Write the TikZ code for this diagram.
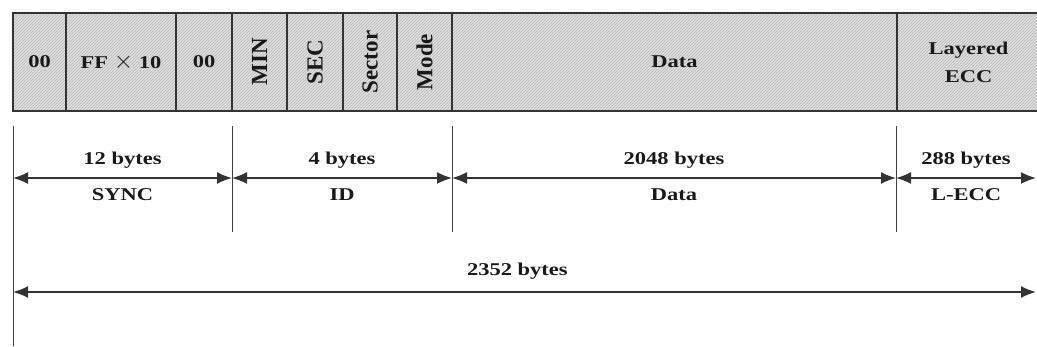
\documentclass[tikz,border=0pt]{standalone}
\usepackage{fontspec}
\setmainfont{Liberation Serif}[FakeStretch=1.25]
\newfontfamily\upright{Liberation Serif}
\usetikzlibrary{arrows.meta,patterns}

\tikzset{
  cell/.style={draw=black!80,line width=1.6pt,preaction={fill=black!13},
    pattern=north east lines,pattern color=black!27,minimum height=98pt,
    inner sep=0pt,text=black!90,font=\bfseries\fontsize{18}{21}\selectfont,align=center},
  lbl/.style={text=black!90,font=\bfseries\fontsize{18}{21}\selectfont,inner sep=0pt},
  tick/.style={draw=black!75,line width=0.9pt}
}
\newcommand{\vlabel}[1]{\rotatebox{90}{\upright\fontsize{23}{26}\selectfont #1}}

\begin{document}
\begin{tikzpicture}[x=1pt,y=-1pt,>={Latex[length=15pt,width=12pt]}]
      \useasboundingbox (0,0) rectangle (1037,346);
      % sector fields
      \node[cell,minimum width=53pt] (zA) at (39.5,62) {00};
      \node[cell,minimum width=110pt] (ff) at (121,62) {FF {\fontsize{24}{24}\selectfont$\times$} 10};
      \node[cell,minimum width=56pt] (zB) at (204,62) {00};
      \node[cell,minimum width=55pt] (min) at (259.5,62) {\vlabel{MIN}};
      \node[cell,minimum width=56pt] (sec) at (315,62) {\vlabel{SEC}};
      \node[cell,minimum width=54pt] (sect) at (370,62) {\vlabel{Sector}};
      \node[cell,minimum width=55pt] (mode) at (424.5,62) {\vlabel{Mode}};
      \node[cell,minimum width=445pt] (data) at (674.5,62) {Data};
      \node[cell,minimum width=143pt] (ecc) at (968.5,62) {Layered\\[7pt]ECC};
      % boundaries
      \draw[tick] (13,126) -- (13,346);
      \draw[tick] (232,126) -- (232,232);
      \draw[tick] (452,126) -- (452,232);
      \draw[tick] (896,126) -- (896,232);
      \coordinate (s0) at (13,178);
      \coordinate (s1) at (232,178);
      \coordinate (s2) at (452,178);
      \coordinate (s3) at (896,178);
      \coordinate (s4) at (1036,178);
      \coordinate (t0) at (13,292);
      \coordinate (t1) at (1036,292);
      % lengths
      \draw[<->,line width=1.7pt,draw=black!80] (s0) -- (s1)
        node[lbl,midway,above=9pt] (nsync) {12 bytes}
        node[lbl,midway,below=10pt] (lsync) {SYNC};
      \draw[<->,line width=1.7pt,draw=black!80] (s1) -- (s2)
        node[lbl,midway,above=9pt] (nid) {4 bytes}
        node[lbl,midway,below=10pt] (lid) {ID};
      \draw[<->,line width=1.7pt,draw=black!80] (s2) -- (s3)
        node[lbl,midway,above=9pt] (ndata) {2048 bytes}
        node[lbl,midway,below=10pt] (ldata) {Data};
      \draw[<->,line width=1.7pt,draw=black!80] (s3) -- (s4)
        node[lbl,midway,above=9pt] (necc) {288 bytes}
        node[lbl,midway,below=10pt] (lecc) {L-ECC};
      \draw[<->,line width=1.7pt,draw=black!80] (t0) -- (t1)
        node[lbl,pos=0.493,above=12pt] (ntot) {2352 bytes};
\end{tikzpicture}
\end{document}
